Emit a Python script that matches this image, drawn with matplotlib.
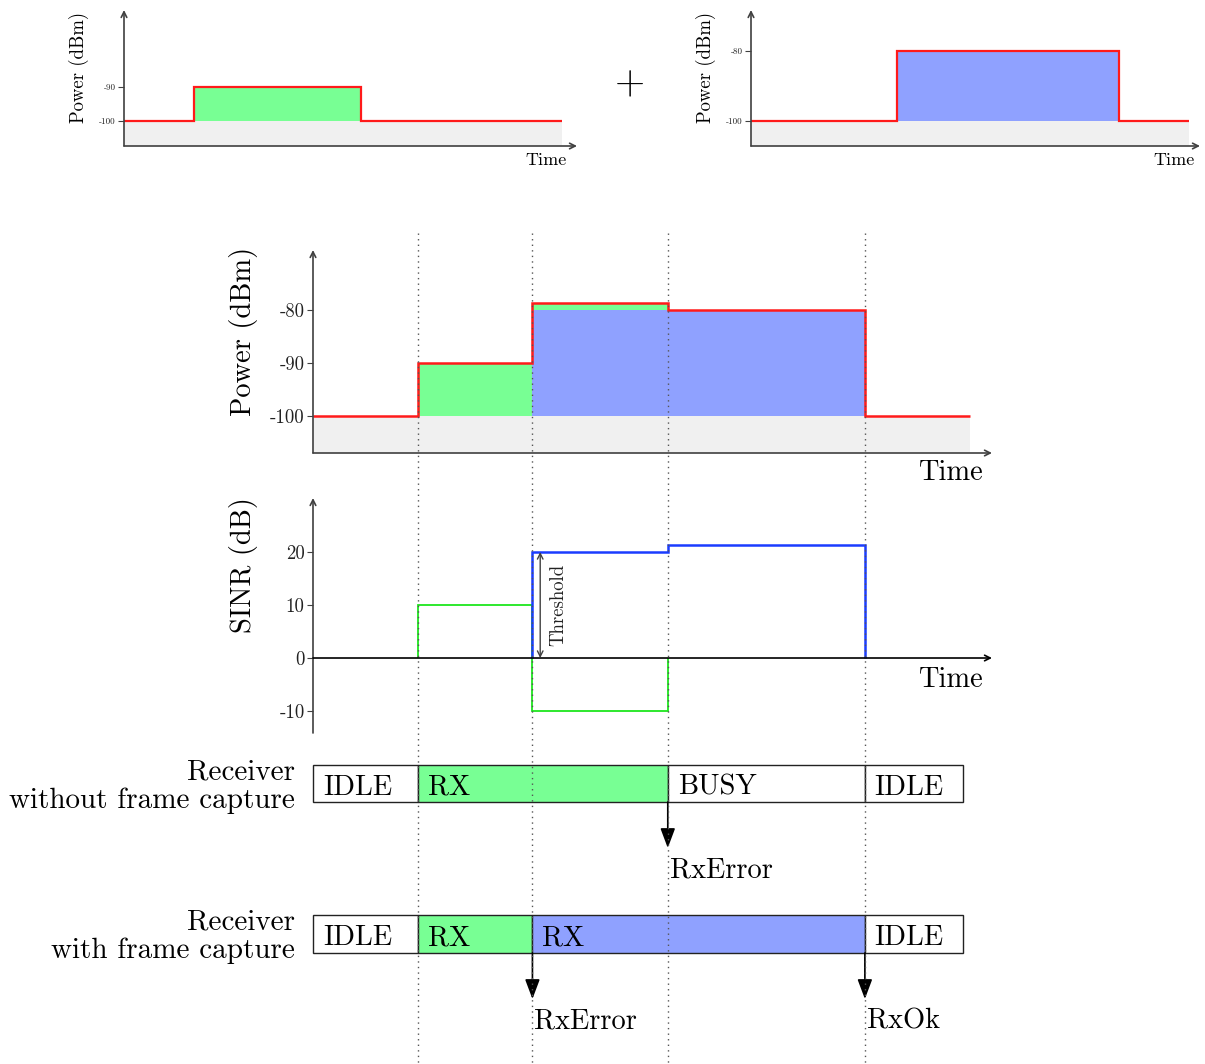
import matplotlib
matplotlib.use('Agg')
import matplotlib.pyplot as plt
from matplotlib.patches import Rectangle

plt.rcParams['font.family'] = 'cmr10'
plt.rcParams['axes.unicode_minus'] = False

# figure size in pixels
W, H = 1205, 1064

# time scale (arbitrary units, whole window is 0..10)
t_end = 10.0
t_axis = 10.34
noise_floor = -100

# the two frames: start, end, received power
frame_start = [1.6, 3.34]
frame_end = [5.4, 8.4]
frame_power = [-90, -80]

# total received power seen by the receiver
power_edges = [0, 1.6, 3.34, 5.4, 8.4, 10]
power_total = [-100, -90, -78.6, -80, -100]

# SINR of each frame
sinr_green_edges = [1.6, 3.34, 5.4]
sinr_green = [10, -10]
sinr_blue_edges = [3.34, 5.4, 8.4]
sinr_blue = [20, 21.4]
threshold = 20
threshold_t = 3.46

# receiver states
states_no_capture = ['IDLE', 'RX', 'BUSY', 'IDLE']
edges_no_capture = [0, 1.6, 5.4, 8.4, 9.9]
events_no_capture = [(5.4, 'RxError')]
states_capture = ['IDLE', 'RX', 'RX', 'IDLE']
edges_capture = [0, 1.6, 3.34, 8.4, 9.9]
events_capture = [(3.34, 'RxError'), (8.4, 'RxOk')]

GREEN = '#78ff94'
BLUE = '#8fa1ff'
RED = '#ff1a1a'
GRAY = '#f0f0f0'
AXC = '#404040'

fills_no_capture = ['white', GREEN, 'white', 'white']
fills_capture = ['white', GREEN, BLUE, 'white']

fig = plt.figure(figsize=(W / 100, H / 100), dpi=100)


def px_axes(x0, y0, x1, y1):
    """ axes from a pixel box (origin top left) """
    return fig.add_axes([x0 / W, 1 - y1 / H, (x1 - x0) / W, (y1 - y0) / H])


def px_text(x, y, s, **kw):
    fig.text(x / W, 1 - y / H, s, **kw)


def setup(ax, xmax, ylim, yticks, size, xaxis_at=None, xcolor=AXC):
    ax.set_xlim(0, xmax)
    ax.set_ylim(*ylim)
    for s in ax.spines.values():
        s.set_visible(False)
    ax.patch.set_alpha(0)
    ax.set_xticks([])
    ax.set_yticks(yticks)
    ax.set_yticklabels([str(v) for v in yticks])
    ax.tick_params(axis='y', direction='out', length=4, width=0.8,
                   color=AXC, labelsize=size, pad=2, labelcolor='#222222')
    # axes drawn as arrows
    ax.annotate('', xy=(0, 1), xytext=(0, 0), xycoords='axes fraction',
                arrowprops=dict(arrowstyle='->', color=AXC, lw=1.2,
                                shrinkA=0, shrinkB=0))
    if xaxis_at is None:
        ax.annotate('', xy=(1, 0), xytext=(0, 0), xycoords='axes fraction',
                    arrowprops=dict(arrowstyle='->', color=xcolor, lw=1.2,
                                    shrinkA=0, shrinkB=0))
    else:
        ax.annotate('', xy=(1, xaxis_at), xytext=(0, xaxis_at),
                    xycoords=('axes fraction', 'data'),
                    arrowprops=dict(arrowstyle='->', color=xcolor, lw=1.2,
                                    shrinkA=0, shrinkB=0))


# ---- top left: first frame alone
ax1 = px_axes(124, 10, 577, 146)
setup(ax1, t_axis, (-107.35, -67.35), [-100, -90], 6.5)
ax1.fill_between([0, t_end], -107.35, noise_floor, color=GRAY, lw=0)
ax1.bar(frame_start[0], frame_power[0] - noise_floor, frame_end[0] - frame_start[0],
        bottom=noise_floor, align='edge', color=GREEN, lw=0)
ax1.stairs([noise_floor, frame_power[0], noise_floor],
           [0, frame_start[0], frame_end[0], t_end], baseline=None, color=RED, lw=1.6)
ax1.text(0.978, -0.05, 'Time', transform=ax1.transAxes, ha='right', va='top', fontsize=13)
px_text(79, 67, 'Power (dBm)', rotation=90, ha='center', va='center', fontsize=13.5)

# ---- top right: second frame alone
ax2 = px_axes(751, 10, 1200, 146)
setup(ax2, 10.25, (-107.14, -68.3), [-100, -80], 6.5)
ax2.fill_between([0, t_end], -107.14, noise_floor, color=GRAY, lw=0)
ax2.bar(frame_start[1], frame_power[1] - noise_floor, frame_end[1] - frame_start[1],
        bottom=noise_floor, align='edge', color=BLUE, lw=0)
ax2.stairs([noise_floor, frame_power[1], noise_floor],
           [0, frame_start[1], frame_end[1], t_end], baseline=None, color=RED, lw=1.6)
ax2.text(0.989, -0.05, 'Time', transform=ax2.transAxes, ha='right', va='top', fontsize=13)
px_text(706, 67, 'Power (dBm)', rotation=90, ha='center', va='center', fontsize=13.5)

px_text(630, 84, '+', ha='center', va='center', fontsize=28)

# ---- main power chart
ax3 = px_axes(313, 250, 992, 453)
ylo = -106.98
setup(ax3, t_axis, (ylo, -68.68), [-100, -90, -80], 13.5)
ax3.fill_between([0, t_end], ylo, noise_floor, color=GRAY, lw=0)
ax3.bar(frame_start[1], frame_power[1] - noise_floor, frame_end[1] - frame_start[1],
        bottom=noise_floor, align='edge', color=BLUE, lw=0)
ax3.bar([frame_start[0], frame_start[1]],
        [frame_power[0] - noise_floor, power_total[2] - frame_power[1]],
        [frame_start[1] - frame_start[0], frame_end[0] - frame_start[1]],
        bottom=[noise_floor, frame_power[1]], align='edge', color=GREEN, lw=0)
ax3.stairs(power_total, power_edges, baseline=None, color=RED, lw=1.8)
ax3.text(0.987, -0.035, 'Time', transform=ax3.transAxes, ha='right', va='top', fontsize=20.5)
px_text(243, 331, 'Power (dBm)', rotation=90, ha='center', va='center', fontsize=20.5)

# ---- SINR chart
ax4 = px_axes(313, 498, 992, 733)
setup(ax4, t_axis, (-14.15, 30.19), [-10, 0, 10, 20], 13.5, xaxis_at=0, xcolor='black')
ax4.stairs(sinr_green, sinr_green_edges, baseline=0, color='#1ee61e', lw=1.3)
ax4.stairs(sinr_blue, sinr_blue_edges, baseline=0, color='#1a3cff', lw=1.8)
ax4.annotate('', xy=(threshold_t, threshold), xytext=(threshold_t, 0),
             arrowprops=dict(arrowstyle='<->', color=AXC, lw=1.0, shrinkA=0, shrinkB=0))
ax4.text(threshold_t + 0.28, threshold / 2, 'Threshold', rotation=90,
         ha='center', va='center', fontsize=13.5, color='#222222')
ax4.text(0.987, -1.6, 'Time', transform=ax4.get_yaxis_transform(), ha='right',
         va='top', fontsize=20.5)
px_text(243, 565, 'SINR (dB)', rotation=90, ha='center', va='center', fontsize=20.5)

# ---- receiver state rows, drawn on an overlay in the same time scale
lay = fig.add_axes([0, 0, 1, 1])
lay.set_xlim(-313 / 65.7, (W - 313) / 65.7)
lay.set_ylim(H, 0)
lay.axis('off')
lay.patch.set_alpha(0)


def state_row(y0, y1, states, edges, fills, events, arrow_to, label):
    for s, a, b, c in zip(states, edges[:-1], edges[1:], fills):
        lay.add_patch(Rectangle((a, y0), b - a, y1 - y0, facecolor=c,
                                edgecolor='#222222', lw=1.0, zorder=2))
        lay.text(a + 0.15, (y0 + y1) / 2 + 4, s, ha='left', va='center',
                 fontsize=20.5, zorder=3)
    for t, name in events:
        lay.annotate('', xy=(t, arrow_to), xytext=(t, y1),
                     arrowprops=dict(arrowstyle='-|>,head_length=1.2,head_width=0.45',
                                     color='black', lw=1.2, shrinkA=0, shrinkB=0),
                     zorder=3)
        lay.text(t + 0.03, arrow_to + 22, name, ha='left', va='center', fontsize=20.5)
    lay.text(-18 / 65.7, (y0 + y1) / 2 + 3, label, ha='right', va='center',
             fontsize=21, linespacing=1.1)


state_row(765, 802, states_no_capture, edges_no_capture, fills_no_capture,
          events_no_capture, 848, 'Receiver\nwithout frame capture')
state_row(915, 953, states_capture, edges_capture, fills_capture,
          events_capture, 999, 'Receiver\nwith frame capture')

# dotted guides at every frame boundary
for t in sorted(set(frame_start + frame_end)):
    lay.plot([t, t], [233, H], color='#555555', lw=1.0, ls=(0, (1, 3)), zorder=4)

fig.savefig('out.png', dpi=100)
